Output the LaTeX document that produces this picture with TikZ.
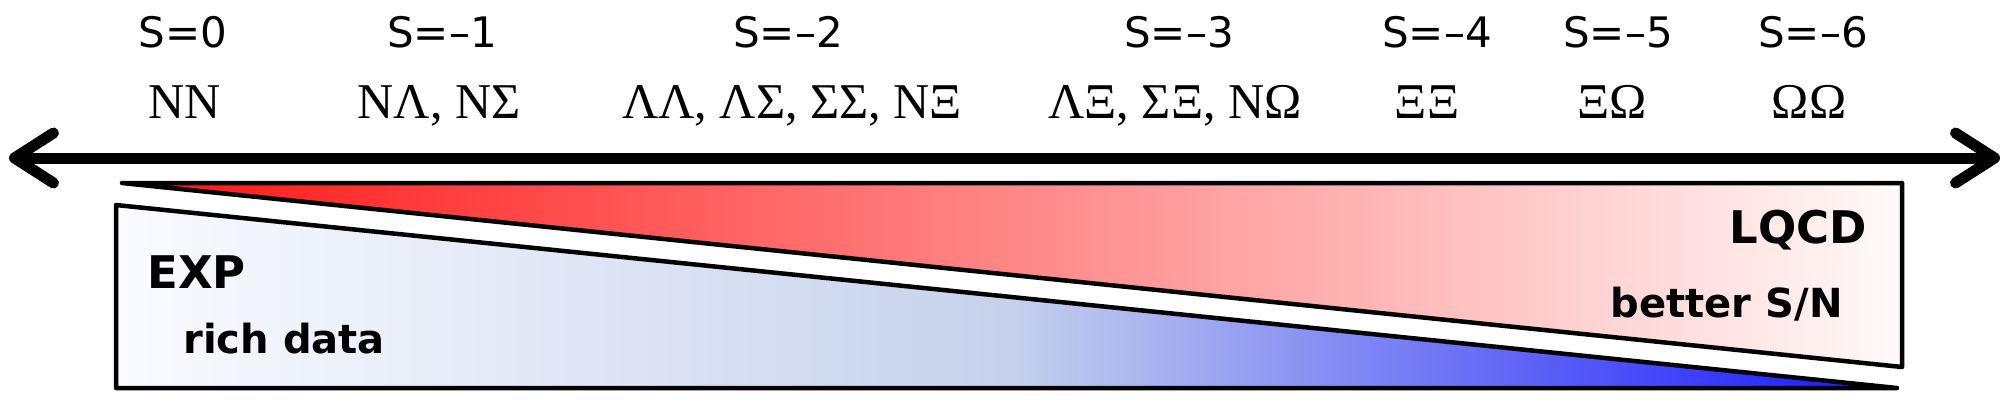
\documentclass[tikz,border=0pt]{standalone}
\usepackage{fontspec}
\setmainfont{Liberation Serif}
\setsansfont{DejaVu Sans}
\usepackage{tikz}
\usetikzlibrary{arrows.meta}

\definecolor{lqcdleft}{RGB}{255,20,20}
\definecolor{lqcdright}{RGB}{255,250,250}
\definecolor{expleft}{RGB}{250,251,255}
\definecolor{expmid}{RGB}{198,210,236}
\definecolor{expright}{RGB}{20,20,255}

\begin{document}
\begin{tikzpicture} [
        x=0.02cm, y=-0.02cm,
        strange/.style={font=\sffamily\fontsize{23.9}{28}\selectfont, anchor=base, inner sep=0pt},
        pair/.style={font=\rmfamily\fontsize{28.5}{33}\selectfont, anchor=base, inner sep=0pt},
        side/.style={font=\sffamily\bfseries\fontsize{25.6}{30}\selectfont, inner sep=0pt},
        note/.style={font=\sffamily\bfseries\fontsize{22.8}{27}\selectfont, inner sep=0pt},
        wedge/.style={draw=black, line width=0.09cm, line join=round},
        axis/.style={line width=0.22cm, {Straight Barb[length=0.78cm, width=1cm, round]}-{Straight Barb[length=0.78cm, width=1cm, round]}}
    ]
    \useasboundingbox (0,0) rectangle (2008,399);

    % the two wedges
    \coordinate (r1) at (122,183);
    \coordinate (r2) at (1902,183);
    \coordinate (r3) at (1902,367);
    \coordinate (e1) at (116,205);
    \coordinate (e2) at (116,388);
    \coordinate (e3) at (1897,388);

    \draw[wedge, left color=lqcdleft, right color=lqcdright]                    (r1) -- (r2) -- (r3) -- cycle;
    \draw[wedge, left color=expleft, right color=expright, middle color=expmid] (e1) -- (e2) -- (e3) -- cycle;

    % strangeness axis
    \coordinate (minus) at (9,158);
    \coordinate (plus)  at (2000,158);
    \draw[axis] (minus) -- (plus);

    \node[strange]  (s0)  at (183,47)    {S=0};
    \node[strange]  (s1)  at (442,47)    {S=–1};
    \node[strange]  (s2)  at (788,47)    {S=–2};
    \node[strange]  (s3)  at (1179,47)   {S=–3};
    \node[strange]  (s4)  at (1437,47)   {S=–4};
    \node[strange]  (s5)  at (1618,47)   {S=–5};
    \node[strange]  (s6)  at (1813,47)   {S=–6};

    \node[pair]     (b0)  at (185,118)   {NN};
    \node[pair]     (b1)  at (439,118)   {NΛ, NΣ};
    \node[pair]     (b2)  at (792,118)   {ΛΛ, ΛΣ, ΣΣ, NΞ};
    \node[pair]     (b3)  at (1175,118)  {ΛΞ, ΣΞ, NΩ};
    \node[pair]     (b4)  at (1427,118)  {ΞΞ};
    \node[pair]     (b5)  at (1612,118)  {ΞΩ};
    \node[pair]     (b6)  at (1809,118)  {ΩΩ};

    \node[side, anchor=base west]   (exp)   at (147,288)    {EXP};
    \node[note, anchor=base west]   (rich)  at (183,353)    {rich data};
    \node[side, anchor=base east]   (lqcd)  at (1867,243)   {LQCD};
    \node[note, anchor=base east]   (sn)    at (1843,317)   {better S/N};
\end{tikzpicture}
\end{document}
